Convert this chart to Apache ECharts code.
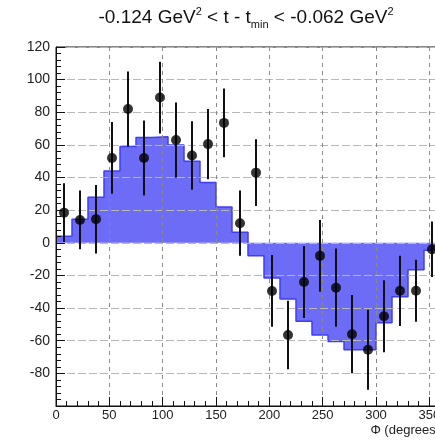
<!DOCTYPE html>
<html>
<head>
<meta charset="utf-8">
<script src="https://cdn.jsdelivr.net/npm/echarts@6/dist/echarts.min.js"></script>
<style>html,body{margin:0;padding:0;background:#fff}#c{width:435px;height:444px}</style>
</head>
<body>
<div id="c"></div>
<script>
// Bin centers (degrees), 15-degree bins
const phiCenters = [7.5, 22.5, 37.5, 52.5, 67.5, 82.5, 97.5, 112.5, 127.5, 142.5, 157.5, 172.5,
                    187.5, 202.5, 217.5, 232.5, 247.5, 262.5, 277.5, 292.5, 307.5, 322.5, 337.5, 352.5];
const binWidth = 15;
// Model histogram (blue filled)
const modelValues = [4, 14.5, 28, 44, 59, 64.5, 65, 60, 50, 37, 22, 6.5,
                     -8, -21.5, -34.5, -48, -56.5, -60.5, -65.5, -65.5, -49, -33, -16.5, -4.5];
// Data points with symmetric errors
const dataValues = [18.5, 14, 14.5, 52, 82, 52, 89, 63, 53.5, 60.5, 73.5, 12,
                    43, -29.5, -56.5, -24, -8, -27.5, -56, -65.5, -45, -29.4, -29.4, -4];
const dataErrors = [18, 18, 21, 22, 23, 23, 22, 23, 21, 21.5, 21, 20,
                    20.5, 22, 21, 22, 22, 24, 24, 24.5, 22, 21.5, 19, 17];
const xTicks = {min: 0, max: 360, interval: 50};
const yTicks = {min: -100, max: 120, interval: 20};

const histLine = phiCenters.map((c, i) => [c - binWidth / 2, modelValues[i]]);
histLine.push([phiCenters[phiCenters.length - 1] + binWidth / 2, modelValues[modelValues.length - 1]]);

const chart = echarts.init(document.getElementById('c'), null, {renderer: 'canvas'});
const labelFont = {fontFamily: 'Liberation Sans, Arial, sans-serif', fontSize: 13, color: '#222'};
const ff = 'Liberation Sans, Arial, sans-serif';

chart.setOption({
  animation: false,
  backgroundColor: '#fff',
  grid: {left: 56, top: 47, width: 384, height: 359, containLabel: false, outerBoundsMode: 'none',
         show: true, borderColor: '#111', borderWidth: 1, backgroundColor: 'transparent'},
  graphic: [
    {
      type: 'text', x: 246, y: 18, z: 10,
      style: {
        text: '{a|-0.124 GeV}{sup|2}{a| < t - t}{sub|min}{a| < -0.062 GeV}{sup|2}',
        align: 'center', verticalAlign: 'middle',
        fill: '#111',
        rich: {
          a: {fontFamily: ff, fontSize: 19, lineHeight: 24, fill: '#111', color: '#111'},
          sup: {fontFamily: ff, fontSize: 11, lineHeight: 24, verticalAlign: 'top', padding: [0, 0, 9, 0], fill: '#111', color: '#111'},
          sub: {fontFamily: ff, fontSize: 11, lineHeight: 24, verticalAlign: 'bottom', padding: [9, 0, 0, 0], fill: '#111', color: '#111'}
        }
      }
    },
    {
      type: 'text', x: 440, y: 430, z: 10,
      style: {text: 'Φ (degrees)', align: 'right', verticalAlign: 'middle', fill: '#222',
              font: '13px Liberation Sans, Arial, sans-serif'}
    }
  ],
  xAxis: {
    type: 'value', min: xTicks.min, max: xTicks.max, interval: xTicks.interval, z: 5,
    axisLine: {show: true, onZero: false, lineStyle: {color: '#111', width: 1}},
    axisTick: {show: true, inside: true, length: 9, lineStyle: {color: '#111'}},
    minorTick: {show: true, splitNumber: 5, length: 5, lineStyle: {color: '#111'}},
    axisLabel: {...labelFont, margin: 3, showMaxLabel: false},
    splitLine: {show: true, lineStyle: {color: '#888', type: [4, 4], width: 1}}
  },
  yAxis: {
    type: 'value', min: yTicks.min, max: yTicks.max, interval: yTicks.interval, z: 5,
    axisLine: {show: true, onZero: false, lineStyle: {color: '#111', width: 1}},
    axisTick: {show: true, inside: true, length: 9, lineStyle: {color: '#111'}},
    minorTick: {show: true, splitNumber: 5, length: 5, lineStyle: {color: '#111'}},
    axisLabel: {...labelFont, fontSize: 14, margin: 6, showMinLabel: false},
    splitLine: {show: true, lineStyle: {color: '#b8b8b8', type: [8, 3], width: 1}}
  },
  series: [
    {
      type: 'line', step: 'end', data: histLine, symbol: 'none', z: 1,
      lineStyle: {color: '#3f3ff2', width: 1.5},
      areaStyle: {color: '#6c6cf6', opacity: 1}
    },
    {
      type: 'custom', z: 6,
      data: phiCenters.map((c, i) => [c, dataValues[i], dataErrors[i]]),
      renderItem: function (params, api) {
        const x = api.value(0), v = api.value(1), e = api.value(2);
        const p1 = api.coord([x, v - e]);
        const p2 = api.coord([x, v + e]);
        return {type: 'line', shape: {x1: p1[0], y1: p1[1], x2: p2[0], y2: p2[1]},
                style: {stroke: '#111', lineWidth: 2}};
      }
    },
    {
      type: 'scatter', z: 7, symbol: 'circle', symbolSize: 10,
      data: phiCenters.map((c, i) => [c, dataValues[i]]),
      itemStyle: {color: '#000'}
    }
  ]
});
</script>
</body>
</html>
